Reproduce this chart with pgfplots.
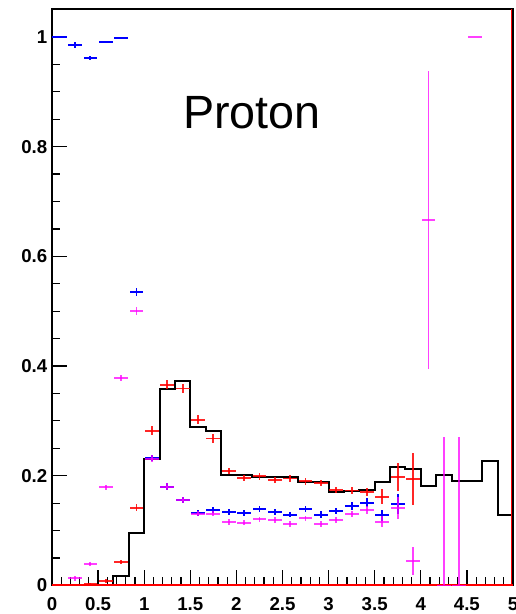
\documentclass[border=0pt]{standalone}
\usepackage{fontspec}
\setmainfont{Liberation Sans}
\usepackage{pgfplots}
\usepackage{pgfplotstable}
\pgfplotsset{compat=1.18}
\definecolor{rred}{rgb}{1,0,0}
\definecolor{rblue}{rgb}{0,0,1}
\definecolor{rmag}{rgb}{1,0,1}
\pgfplotstableread{
x y
0 0
0.16667 0
0.33333 0
0.5 0
0.66667 0.018
0.83333 0.096
1.0 0.231
1.16667 0.358
1.33333 0.373
1.5 0.288
1.66667 0.282
1.83333 0.202
2.0 0.202
2.16667 0.198
2.33333 0.198
2.5 0.197
2.66667 0.189
2.83333 0.188
3.0 0.170
3.16667 0.173
3.33333 0.174
3.5 0.189
3.66667 0.216
3.83333 0.212
4.0 0.181
4.16667 0.201
4.33333 0.190
4.5 0.190
4.66667 0.226
4.83333 0.128
5.0 0.128
}\histo
\pgfplotstableread{
x y ex ey
0.41667 0.003 0.075 0.002
0.58333 0.008 0.075 0.003
0.75 0.043 0.075 0.004
0.91667 0.142 0.075 0.007
1.08333 0.282 0.075 0.008
1.25 0.366 0.075 0.008
1.41667 0.359 0.075 0.008
1.58333 0.302 0.075 0.008
1.75 0.268 0.075 0.008
1.91667 0.209 0.075 0.006
2.08333 0.196 0.075 0.006
2.25 0.199 0.075 0.006
2.41667 0.192 0.075 0.006
2.58333 0.195 0.075 0.006
2.75 0.190 0.075 0.006
2.91667 0.187 0.075 0.006
3.08333 0.174 0.075 0.006
3.25 0.173 0.075 0.006
3.41667 0.170 0.075 0.007
3.58333 0.162 0.075 0.013
3.75 0.198 0.075 0.026
3.91667 0.194 0.075 0.048
}\redpts
\pgfplotstableread{
x y ex ey
0.08333 1.000 0.08 0.0
0.25 0.985 0.075 0.005
0.41667 0.962 0.075 0.004
0.58333 0.991 0.075 0.002
0.75 0.998 0.075 0.001
0.91667 0.535 0.075 0.007
1.08333 0.232 0.075 0.006
1.25 0.180 0.075 0.006
1.41667 0.156 0.075 0.005
1.58333 0.132 0.075 0.005
1.75 0.138 0.075 0.005
1.91667 0.134 0.075 0.005
2.08333 0.132 0.075 0.005
2.25 0.139 0.075 0.005
2.41667 0.134 0.075 0.005
2.58333 0.129 0.075 0.005
2.75 0.139 0.075 0.005
2.91667 0.129 0.075 0.006
3.08333 0.136 0.075 0.006
3.25 0.145 0.075 0.007
3.41667 0.151 0.075 0.008
3.58333 0.128 0.075 0.010
3.75 0.149 0.075 0.018
}\bluepts
\pgfplotstableread{
x y ex eyp eym
0.25 0.013 0.075 0.004 0.004
0.41667 0.039 0.075 0.004 0.004
0.58333 0.179 0.075 0.005 0.005
0.75 0.378 0.075 0.006 0.006
0.91667 0.500 0.075 0.007 0.007
1.08333 0.231 0.075 0.006 0.006
1.25 0.180 0.075 0.006 0.006
1.41667 0.156 0.075 0.005 0.005
1.58333 0.131 0.075 0.005 0.005
1.75 0.131 0.075 0.005 0.005
1.91667 0.116 0.075 0.005 0.005
2.08333 0.1145 0.075 0.005 0.005
2.25 0.1206 0.075 0.005 0.005
2.41667 0.1195 0.075 0.005 0.005
2.58333 0.112 0.075 0.005 0.005
2.75 0.1224 0.075 0.005 0.005
2.91667 0.112 0.075 0.005 0.005
3.08333 0.1195 0.075 0.006 0.006
3.25 0.130 0.075 0.006 0.006
3.41667 0.1377 0.075 0.007 0.007
3.58333 0.116 0.075 0.010 0.010
3.75 0.141 0.075 0.020 0.020
3.91667 0.045 0.075 0.026 0.026
4.08333 0.666 0.075 0.272 0.272
4.25 0.0 0.075 0.271 0.0
4.41667 0.0 0.075 0.271 0.0
4.58333 1.0 0.075 0.0 0.0
}\magpts
\begin{document}
\begin{tikzpicture}
\begin{axis}[
  scale only axis, width=345.75pt, height=432.4pt,
  xmin=0, xmax=5, ymin=0, ymax=1.051,
  xtick={0,0.5,1,1.5,2,2.5,3,3.5,4,4.5,5},
  ytick={0,0.2,0.4,0.6,0.8,1},
  minor x tick num=4, minor y tick num=3,
  tick align=inside, xtick pos=bottom, ytick pos=left,
  major tick length=11.5pt, minor tick length=6pt,
  tick style={black, line width=0.9pt},
  axis line style={line width=1.1pt},
  /pgf/number format/assume math mode=true,
  ticklabel style={font=\fontsize{14}{14}\selectfont\bfseries},
  xticklabel style={yshift=-5.5pt},
  clip=false,
]
\addplot[const plot mark left, black, line width=1.5pt] table[x=x,y=y] {\histo};
\addplot[rred, line width=1.5pt] coordinates {(0,0.001) (5,0.001)};
\addplot[rred, line width=1.3pt] coordinates {(4.985,0) (4.985,1.051)};
\addplot[draw=none, mark=none, error bars/.cd, x dir=both, x explicit, y dir=both, y explicit,
  error mark=none, error bar style={draw=rred, line width=1.4pt, opacity=0.85}]
  table[x=x, y=y, x error=ex, y error=ey] {\redpts};
\addplot[draw=none, mark=none, error bars/.cd, x dir=both, x explicit, y dir=both, y explicit,
  error mark=none, error bar style={draw=rblue, line width=1.4pt}]
  table[x=x, y=y, x error=ex, y error=ey] {\bluepts};
\addplot[draw=none, mark=none, error bars/.cd, x dir=both, x explicit, y dir=both, y explicit,
  error mark=none, error bar style={draw=rmag, line width=1.4pt, opacity=0.75}]
  table[x=x, y=y, x error=ex, y error plus=eyp, y error minus=eym] {\magpts};
\node[font=\fontsize{35}{42}\selectfont] at (axis cs:2.17,0.861) {Proton};
\end{axis}
\pgfresetboundingbox
\path[use as bounding box] (-39pt,-21.4pt) rectangle (347.25pt,439.1pt);
\end{tikzpicture}
\end{document}
